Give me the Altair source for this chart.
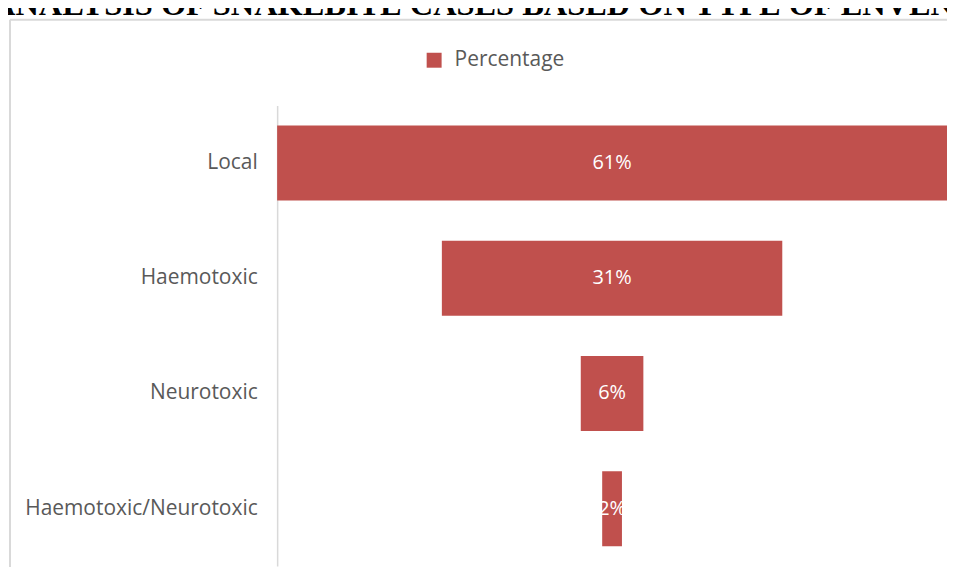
import altair as alt
import pandas as pd

title_text = "ANALYSIS OF SNAKEBITE CASES BASED ON TYPE OF ENVENOMATION"
categories = ["Local", "Haemotoxic", "Neurotoxic", "Haemotoxic/Neurotoxic"]
values = [61, 31, 5.7, 1.8]
series_name = "Percentage"
bar_color = "#c0504d"

df = pd.DataFrame({"category": categories, "value": values})
df["series"] = series_name
df["start"] = -df["value"] / 2
df["end"] = df["value"] / 2
df["mid"] = 0.0
df["label"] = [f"{v:.0f}%" for v in values]

title_df = pd.DataFrame({"t": [title_text]})

half = max(values) / 2
xscale = alt.Scale(domain=[-half, half])
yenc = alt.Y(
    "category:N",
    sort=categories,
    scale=alt.Scale(paddingInner=0.35, paddingOuter=0.173),
    axis=alt.Axis(
        title=None,
        ticks=False,
        domainColor="#d9d9d9",
        domainWidth=1.5,
        labelFont="Open Sans",
        labelFontSize=21,
        labelColor="#595959",
        labelPadding=20,
        labelLimit=0,
    ),
)

base = alt.Chart(df)
bars = base.mark_bar().encode(
    x=alt.X("start:Q", scale=xscale, axis=None),
    x2="end:Q",
    y=yenc,
    color=alt.Color(
        "series:N",
        scale=alt.Scale(range=[bar_color]),
        legend=alt.Legend(
            title=None,
            orient="none",
            legendX=147,
            legendY=-56,
            padding=0,
            symbolType="square",
            symbolSize=225,
            symbolStrokeWidth=0,
            labelFont="Open Sans",
            labelFontSize=21,
            labelColor="#595959",
            labelOffset=10,
        ),
    ),
)
labels = base.mark_text(color="white", font="Open Sans", fontSize=20).encode(
    x=alt.X("mid:Q", scale=xscale, axis=None),
    y=yenc,
    text="label:N",
)

title = alt.Chart(title_df).mark_text(
    align="left", baseline="alphabetic", font="Liberation Serif",
    fontWeight="bold", fontSize=32.5, color="black"
).encode(x=alt.value(-286), y=alt.value(-91), text="t:N")

frame_v = alt.Chart(title_df).mark_rule(color="#d9d9d9", strokeWidth=2).encode(
    x=alt.value(-268), y=alt.value(-86), y2=alt.value(470)
)
frame_h = alt.Chart(title_df).mark_rule(color="#d9d9d9", strokeWidth=2).encode(
    x=alt.value(-268), x2=alt.value(676), y=alt.value(-86)
)

chart = alt.layer(frame_v, frame_h, title, bars, labels).properties(
    width=672,
    height=462,
    autosize=alt.AutoSizeParams(type="none"),
    padding={"left": 270, "top": 97, "right": 0, "bottom": 0},
    background="white",
).configure_view(stroke=None)

chart.save("out.html", embed_options={"renderer": "svg", "actions": False})
